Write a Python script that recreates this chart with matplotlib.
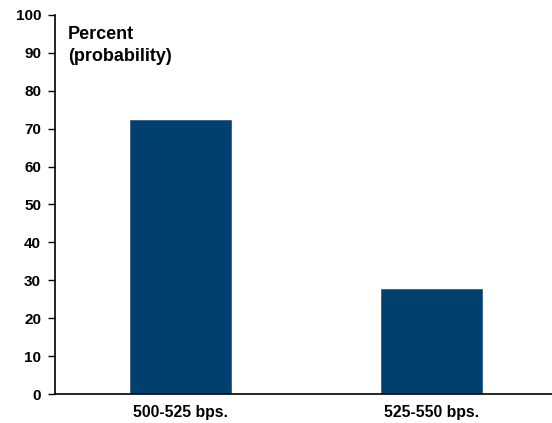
import matplotlib
matplotlib.use('Agg')
from matplotlib import pyplot as plt

categories = ['500-525 bps.', '525-550 bps.']
values = [72.4, 27.6]
yticks = list(range(0, 101, 10))

plt.rcParams['font.family'] = ['Liberation Sans', 'DejaVu Sans']
plt.rcParams['font.weight'] = 'bold'

fig = plt.figure(figsize=(5.52, 4.23), dpi=100)
ax = fig.add_axes([55 / 552, 1 - 394 / 423, 497 / 552, 379 / 423])

x = range(len(categories))
ax.bar(x, values, width=0.4, color='#003f6e', edgecolor='#2e5f8a', linewidth=0.6)

ax.set_xlim(-0.5, 1.48)
ax.set_ylim(0, 100)
ax.set_yticks(yticks)
ax.set_yticklabels([str(t) for t in yticks], fontsize=11, fontweight='bold')
ax.set_xticks(list(x))
ax.set_xticklabels(categories, fontsize=11.4, fontweight='bold')
ax.tick_params(axis='x', length=0, pad=8)
ax.tick_params(axis='y', length=5, width=1, pad=5)

for s in ['top', 'right']:
    ax.spines[s].set_visible(False)
for s in ['left', 'bottom']:
    ax.spines[s].set_linewidth(1.2)

ax.text(0.026, 0.97, 'Percent\n(probability)', transform=ax.transAxes,
        fontsize=13, fontweight='bold', va='top', ha='left', linespacing=1.35)

plt.savefig('out.png', dpi=100)
